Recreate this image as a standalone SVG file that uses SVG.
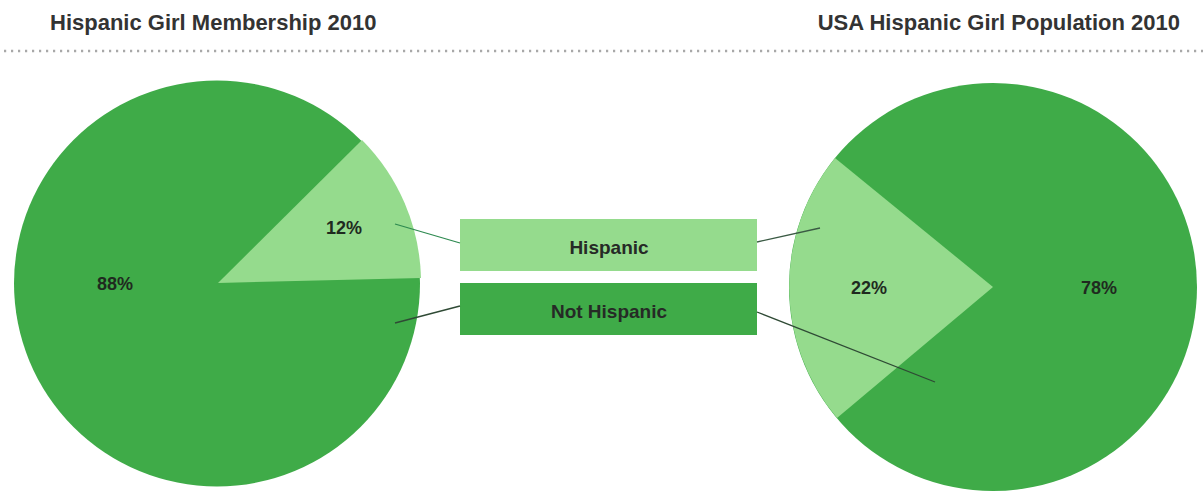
<svg xmlns="http://www.w3.org/2000/svg" width="1203" height="492" viewBox="0 0 1203 492">
  <style>
    .title { font-family: "Liberation Sans", Arial, sans-serif; font-weight: bold; font-size: 22px; fill: #333333; }
    .pct { font-family: "Liberation Sans", Arial, sans-serif; font-weight: bold; font-size: 18px; fill: #1f2a1f; text-anchor: middle; }
    .leg { font-family: "Liberation Sans", Arial, sans-serif; font-weight: bold; font-size: 19px; fill: #262a26; text-anchor: middle; }
    .dark { fill: #3fab48; }
    .light { fill: #95db8d; }
    .conn { fill: none; stroke-width: 1.3; }
  </style>
  <rect x="0" y="0" width="1203" height="492" fill="#ffffff"/>

  <g id="titles">
    <text class="title" x="50" y="30">Hispanic Girl Membership 2010</text>
    <text class="title" x="1180" y="30" text-anchor="end">USA Hispanic Girl Population 2010</text>
    <line x1="4" y1="51" x2="1203" y2="51" stroke="#a8a8a8" stroke-width="2.4" stroke-dasharray="2.2 4.8"/>
  </g>

  <g id="pie-membership">
    <circle class="dark" cx="217" cy="283.5" r="203"/>
    <path class="light" d="M218,283 L362,140 A203,203 0 0 1 421,278 Z"/>
    <text class="pct" x="344" y="234">12%</text>
    <text class="pct" x="115" y="290">88%</text>
  </g>

  <g id="pie-population">
    <circle class="dark" cx="993" cy="287" r="204"/>
    <path class="light" d="M993,287 L835,158 A204,204 0 0 0 837,418 Z"/>
    <text class="pct" x="869" y="294">22%</text>
    <text class="pct" x="1099" y="294">78%</text>
  </g>

  <g id="legend-hispanic">
    <rect class="light" x="460" y="219" width="297" height="52"/>
    <text class="leg" x="609" y="254">Hispanic</text>
  </g>

  <g id="legend-not-hispanic">
    <rect class="dark" x="460" y="283" width="297" height="52"/>
    <text class="leg" x="609" y="318">Not Hispanic</text>
  </g>

  <g id="connectors">
    <line class="conn" stroke="#2e8a50" x1="395" y1="224" x2="460" y2="243"/>
    <line class="conn" stroke="#2f4a35" x1="395" y1="323" x2="460" y2="306"/>
    <line class="conn" stroke="#3a5a44" x1="757" y1="242" x2="820" y2="228"/>
    <line class="conn" stroke="#2f4a35" x1="757" y1="312" x2="935" y2="382"/>
  </g>
</svg>
